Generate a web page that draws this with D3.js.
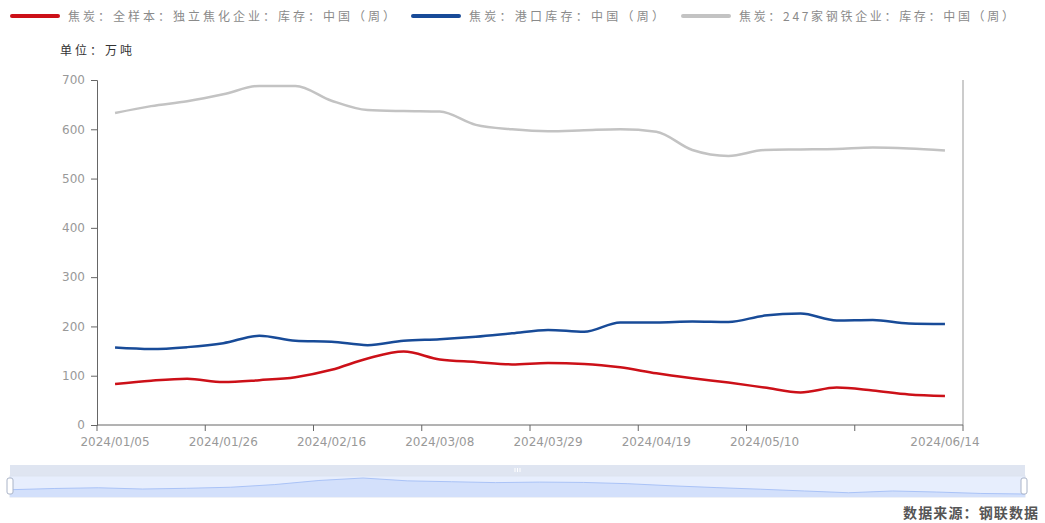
<!DOCTYPE html>
<html>
<head>
<meta charset="utf-8">
<script src="https://cdn.jsdelivr.net/npm/d3@7"></script>
<style>
  body { margin: 0; background: #fff; }
  svg text { font-family: "DejaVu Sans", sans-serif; }
  .cjk { font-family: "Noto Sans CJK SC", sans-serif; }
</style>
</head>
<body>
<svg id="chart"></svg>
<script>
var weeks = ["2024/01/05","2024/01/12","2024/01/19","2024/01/26","2024/02/02","2024/02/09",
  "2024/02/16","2024/02/23","2024/03/01","2024/03/08","2024/03/15","2024/03/22",
  "2024/03/29","2024/04/05","2024/04/12","2024/04/19","2024/04/26","2024/05/03",
  "2024/05/10","2024/05/17","2024/05/24","2024/05/31","2024/06/07","2024/06/14"];

// 焦炭：全样本：独立焦化企业：库存
var independent = [83, 90, 94, 87, 91, 97, 112, 135, 149, 133, 128, 123,
  126, 124, 117, 105, 95, 86, 76, 66, 76, 70, 62, 59];
// 焦炭：港口库存
var port = [157, 154, 158, 166, 181, 171, 169, 162, 171, 174, 179, 186,
  193, 189, 208, 208, 210, 209, 222, 226, 212, 213, 206, 205];
// 焦炭：247家钢铁企业：库存
var steel = [633, 647, 657, 671, 688, 688, 658, 639, 637, 636, 609, 600,
  596, 598, 600, 595, 558, 546, 558, 559, 560, 563, 561, 557];

var yTicks = [0, 100, 200, 300, 400, 500, 600, 700];
var labelWeeks = ["2024/01/05","2024/01/26","2024/02/16","2024/03/08","2024/03/29",
  "2024/04/19","2024/05/10","2024/06/14"];
var tickWeeks = ["2024/01/05","2024/01/26","2024/02/16","2024/03/08","2024/03/29",
  "2024/04/19","2024/05/10","2024/05/31"];

var seriesNames = ["焦炭：全样本：独立焦化企业：库存：中国（周）", "焦炭：港口库存：中国（周）",
  "焦炭：247家钢铁企业：库存：中国（周）"];
var colors = ["#cc1018", "#184b98", "#c3c3c3"];

var svgWidth = 1045;
var svgHeight = 523;
var svg = d3.select("#chart").attr("width", svgWidth).attr("height", svgHeight);

var x = d3.scaleBand().domain(weeks).range([97, 963]);
var y = d3.scaleLinear().domain([0, 700]).range([425, 80]);
var half = x.bandwidth() / 2;

// legend
var legendX = [12, 413, 683];
var legendTextLen = [327, 195, 275];
var legend = svg.selectAll("g.legend").data(seriesNames).enter().append("g")
  .attr("class", "legend")
  .attr("transform", function(d, i) { return "translate(" + legendX[i] + ",16)"; });
legend.append("line").attr("x1", 0).attr("x2", 46).attr("y1", 0).attr("y2", 0)
  .attr("stroke", function(d, i) { return colors[i]; })
  .attr("stroke-width", 4).attr("stroke-linecap", "round");
legend.append("text").attr("class", "cjk").attr("x", 56).attr("y", 5)
  .attr("font-size", 12).attr("fill", "#8a8a8a")
  .attr("textLength", function(d, i) { return legendTextLen[i]; })
  .attr("lengthAdjust", "spacing")
  .text(function(d) { return d; });

svg.append("text").attr("class", "cjk").attr("x", 60).attr("y", 55)
  .attr("font-size", 12).attr("fill", "#333").attr("textLength", 72)
  .attr("lengthAdjust", "spacing").text("单位：万吨");

// y axis
var yAxis = svg.append("g").attr("transform", "translate(97,0)")
  .call(d3.axisLeft(y).tickValues(yTicks).tickSize(6).tickPadding(6));
yAxis.select(".domain").attr("stroke", "#666");
yAxis.selectAll(".tick line").attr("stroke", "#666");
yAxis.selectAll(".tick text").attr("fill", "#999").attr("font-size", 12)
  .style("font-family", "'DejaVu Sans', sans-serif");

// right axis line
svg.append("line").attr("x1", 963).attr("x2", 963).attr("y1", y(700)).attr("y2", y(0))
  .attr("stroke", "#999");

// x axis
var xg = svg.append("g");
xg.append("line").attr("x1", 97).attr("x2", 963).attr("y1", y(0)).attr("y2", y(0))
  .attr("stroke", "#666");
xg.selectAll("line.tick").data(tickWeeks).enter().append("line")
  .attr("class", "tick")
  .attr("x1", function(d) { return x(d); }).attr("x2", function(d) { return x(d); })
  .attr("y1", y(0)).attr("y2", y(0) + 6).attr("stroke", "#666");
xg.append("line").attr("x1", 963).attr("x2", 963).attr("y1", y(0)).attr("y2", y(0) + 6)
  .attr("stroke", "#666");
xg.selectAll("text").data(labelWeeks).enter().append("text")
  .attr("x", function(d) { return x(d) + half; }).attr("y", y(0) + 21)
  .attr("text-anchor", "middle").attr("font-size", 12).attr("fill", "#999")
  .text(function(d) { return d; });

// lines
var line = d3.line()
  .x(function(d, i) { return x(weeks[i]) + half; })
  .y(function(d) { return y(d); })
  .curve(d3.curveMonotoneX);

var allSeries = [independent, port, steel];
svg.selectAll("path.series").data(allSeries).enter().append("path")
  .attr("class", "series")
  .attr("d", line)
  .attr("fill", "none")
  .attr("stroke", function(d, i) { return colors[i]; })
  .attr("stroke-width", 2.5);

// data zoom slider
var zx = d3.scalePoint().domain(weeks).range([10, 1025]);
var zy = d3.scaleLinear().domain(d3.extent(independent)).range([494, 478]);
svg.append("rect").attr("x", 10).attr("y", 465).attr("width", 1015).attr("height", 11)
  .attr("fill", "#dfe5f1");
svg.append("rect").attr("x", 10).attr("y", 476).attr("width", 1015).attr("height", 21)
  .attr("fill", "#e7eefd").attr("stroke", "#dde3f0");
var area = d3.area()
  .x(function(d, i) { return zx(weeks[i]); })
  .y0(497).y1(function(d) { return zy(d); });
svg.append("path").datum(independent).attr("d", area).attr("fill", "#d3e0fb");
svg.append("path").datum(independent)
  .attr("d", d3.line().x(function(d, i) { return zx(weeks[i]); }).y(function(d) { return zy(d); }))
  .attr("fill", "none").attr("stroke", "#aac3f7").attr("stroke-width", 1);
[10, 1024].forEach(function(hx) {
  svg.append("rect").attr("x", hx - 3).attr("y", 478).attr("width", 6).attr("height", 16)
    .attr("rx", 2).attr("fill", "#fff").attr("stroke", "#aab4c8");
});
[515, 517.5, 520].forEach(function(hx) {
  svg.append("line").attr("x1", hx).attr("x2", hx).attr("y1", 468).attr("y2", 472)
    .attr("stroke", "#fff").attr("stroke-width", 1);
});

svg.append("text").attr("class", "cjk").attr("x", 903).attr("y", 518)
  .attr("font-size", 14).attr("font-weight", "bold").attr("textLength", 135)
  .attr("lengthAdjust", "spacing")
  .attr("fill", "#555").text("数据来源：钢联数据");
</script>
</body>
</html>
